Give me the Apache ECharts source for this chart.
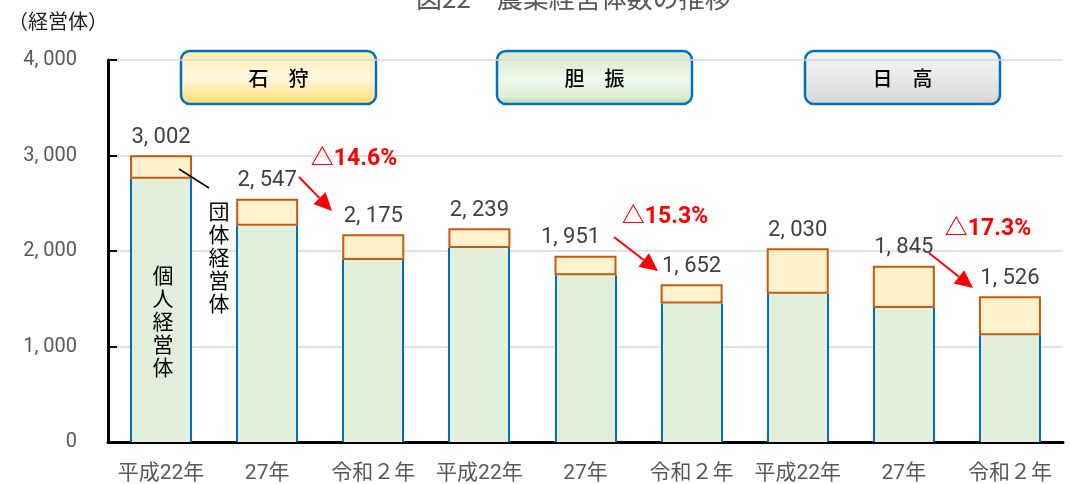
<!DOCTYPE html>
<html lang="ja">
<head>
    <meta charset="UTF-8">
    <title>農業経営体数の推移</title>
    <script src="https://cdn.jsdelivr.net/npm/echarts@6/dist/echarts.min.js"></script>
    <style>
        * {
            margin: 0;
            padding: 0
        }

        html, body {
            width: 100%;
            height: 100%;
            background: #fff;
        }

        #main {
            width: 1071px;
            height: 484px;
        }
    </style>
</head>
<body>
<div id="main"></div>
<script type="text/javascript">
    // データ
    var categories = ['平成22年', '27年', '令和２年', '平成22年', '27年', '令和２年', '平成22年', '27年', '令和２年'];
    var kojin = [2757, 2265, 1907, 2032, 1746, 1451, 1552, 1402, 1117];   // 個人経営体
    var dantai = [245, 282, 268, 207, 205, 201, 478, 443, 409];           // 団体経営体
    var totals = [3002, 2547, 2175, 2239, 1951, 1652, 2030, 1845, 1526];
    var regions = ['石　狩', '胆　振', '日　高'];
    var changes = ['△14.6%', '△15.3%', '△17.3%'];
    var yTicks = [0, 1000, 2000, 3000, 4000];

    var NUM_FONT = 'Roboto, "Noto Sans CJK JP", sans-serif';
    var JP_FONT = '"Noto Sans CJK JP", sans-serif';
    var BAR_W = 62;

    function fmt(v) {
        return String(v).replace(/\B(?=(\d{3})+(?!\d))/g, ', ');
    }

    // 見出しボックス
    var boxFills = [
        [['#FFEDA8', 0], ['#FFF8E2', 0.5], ['#FFE48E', 0.85], ['#FFD966', 1]],
        [['#D6E9CA', 0], ['#F0F7EC', 0.55], ['#DDEDD3', 0.85], ['#B3D89E', 1]],
        [['#F7F7F7', 0], ['#E9E9E9', 0.5], ['#DCDCDC', 0.85], ['#D0D0D0', 1]]
    ];
    var boxX = [181, 497, 805];

    function box(i) {
        return {
            type: 'group',
            x: boxX[i],
            y: 51,
            z: 100,
            children: [{
                type: 'rect',
                shape: {x: 0, y: 0, width: 195, height: 53, r: 9},
                style: {
                    fill: new echarts.graphic.LinearGradient(0, 0, 0, 1,
                        boxFills[i].map(function (s) { return {offset: s[1], color: s[0]}; })),
                    stroke: '#0070C0',
                    lineWidth: 2.5
                }
            }, {
                type: 'text',
                x: 97.5,
                y: 27,
                style: {
                    text: regions[i],
                    font: '500 20px ' + JP_FONT,
                    fill: '#000',
                    align: 'center',
                    verticalAlign: 'middle'
                }
            }]
        };
    }

    // 赤矢印
    function arrow(x1, y1, x2, y2) {
        var ang = Math.atan2(y2 - y1, x2 - x1);
        var len = 18, half = 8.5;
        var bx = x2 - len * Math.cos(ang), by = y2 - len * Math.sin(ang);
        var px = -Math.sin(ang) * half, py = Math.cos(ang) * half;
        return [{
            type: 'line', z: 100,
            shape: {x1: x1, y1: y1, x2: bx, y2: by},
            style: {stroke: '#FF0000', lineWidth: 2}
        }, {
            type: 'polygon', z: 100,
            shape: {points: [[x2, y2], [bx + px, by + py], [bx - px, by - py]]},
            style: {fill: '#FF0000'}
        }];
    }

    function redText(t, x, y) {
        return {
            type: 'text', x: x, y: y, z: 100,
            style: {
                text: t, font: 'bold 23px ' + NUM_FONT, fill: '#FF0000',
                align: 'center', verticalAlign: 'middle'
            }
        };
    }

    function vText(t, x, y, size) {
        return {
            type: 'text', x: x, y: y, z: 100,
            style: {
                text: t.split('').join('\n'), font: size + 'px ' + JP_FONT, fill: '#000',
                align: 'center', verticalAlign: 'top', lineHeight: size + 2
            }
        };
    }

    var graphics = [
        {
            type: 'text', x: 8, y: 21, z: 100,
            style: {text: '（経営体）', font: '20px ' + JP_FONT, fill: '#222', verticalAlign: 'middle'}
        },
        box(0), box(1), box(2),
        redText(changes[0], 354, 159),
        redText(changes[1], 665, 217),
        redText(changes[2], 988, 229),
        vText('個人経営体', 163, 264, 21),
        vText('団体経営体', 219, 200, 21),
        {
            type: 'line', z: 100,
            shape: {x1: 179, y1: 169, x2: 209, y2: 188},
            style: {stroke: '#000', lineWidth: 1.5}
        }
    ]
        .concat(arrow(299, 177, 332, 211))
        .concat(arrow(614, 237, 658, 271))
        .concat(arrow(929, 253, 973, 288));

    var myChart = echarts.init(document.getElementById('main'));
    myChart.setOption({
        animation: false,
        title: {
            text: '図22　農業経営体数の推移',
            left: 411,
            top: -20,
            textStyle: {fontFamily: JP_FONT, fontSize: 26, fontWeight: 'normal', color: '#595959'}
        },
        grid: {left: 108, right: 8, top: 60, bottom: 41},
        xAxis: {
            type: 'category',
            data: categories,
            axisLine: {lineStyle: {color: '#000', width: 3}},
            axisTick: {show: false},
            axisLabel: {
                color: '#595959', fontSize: 21, fontFamily: NUM_FONT,
                margin: 21, interval: 0
            }
        },
        yAxis: {
            type: 'value',
            min: yTicks[0],
            max: yTicks[yTicks.length - 1],
            interval: 1000,
            axisLine: {show: true, lineStyle: {color: '#000', width: 3}},
            axisTick: {show: true, inside: true, length: 9, lineStyle: {color: '#000', width: 2}},
            splitLine: {lineStyle: {color: '#D9D9D9', width: 1.5}},
            axisLabel: {
                color: '#595959', fontSize: 20, fontFamily: NUM_FONT, margin: 31,
                formatter: function (v) { return fmt(v); }
            }
        },
        series: [
            {
                name: '個人経営体',
                type: 'bar',
                stack: 'total',
                barWidth: BAR_W,
                data: kojin,
                itemStyle: {color: '#E2EFDA'}
            },
            {
                name: '団体経営体',
                type: 'bar',
                stack: 'total',
                barWidth: BAR_W,
                data: dantai.map(function (v, i) {
                    // 1,951 のラベルのみ左寄せ
                    return i === 4 ? {value: v, label: {offset: [-15, 0]}} : v;
                }),
                itemStyle: {color: '#FFF2CC', borderColor: '#C55A11', borderWidth: 2},
                label: {
                    show: true,
                    position: 'top',
                    distance: 7,
                    color: '#404040',
                    fontSize: 22,
                    fontFamily: NUM_FONT,
                    formatter: function (p) { return fmt(totals[p.dataIndex]); }
                }
            },
            {
                // 個人経営体の棒の左右の青い縁
                name: '縁',
                type: 'custom',
                z: 5,
                silent: true,
                data: kojin.map(function (v, i) { return [i, v]; }),
                encode: {x: 0, y: 1},
                renderItem: function (params, api) {
                    var base = api.coord([api.value(0), 0]);
                    var top = api.coord([api.value(0), api.value(1)]);
                    var l = Math.round(base[0] - BAR_W / 2) + 1;
                    var r = Math.round(base[0] + BAR_W / 2) - 1;
                    var st = {stroke: '#0070C0', lineWidth: 2, fill: null, opacity: 1};
                    return {
                        type: 'group',
                        children: [
                            {type: 'line', shape: {x1: l, y1: top[1], x2: l, y2: base[1]}, style: st},
                            {type: 'line', shape: {x1: r, y1: top[1], x2: r, y2: base[1]}, style: st}
                        ]
                    };
                }
            }
        ],
        graphic: graphics
    });
</script>

</body>
</html>
